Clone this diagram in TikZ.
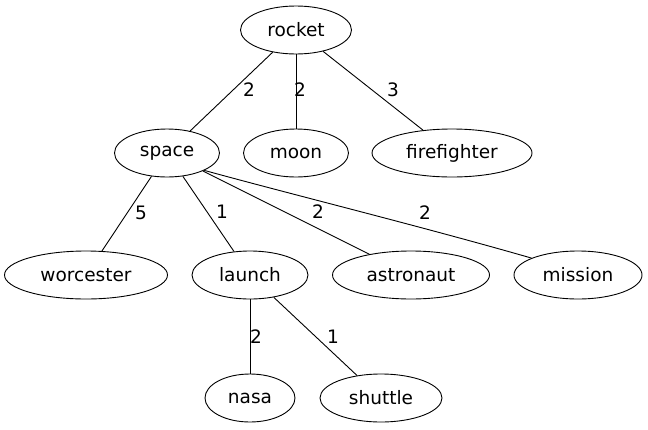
\documentclass[tikz,border=0pt]{standalone}
\usepackage{fontspec}
\setmainfont{DejaVu Sans}
\usetikzlibrary{shapes.geometric}
\tikzset{
  vtx/.style={ellipse, draw, line width=0.9pt, minimum height=48pt, inner sep=0pt},
  wt/.style={inner sep=0pt},
  kante/.style={line width=0.9pt}
}
\begin{document}
\begin{tikzpicture}[x=1pt, y=-1pt, font=\fontsize{18.5}{22}\selectfont]
    \useasboundingbox (0,0) rectangle (648,429);

    % Knoten der ersten Ebene
    \node[vtx, minimum width=111pt] (rocket) at (296,30) {rocket};

    % Knoten der zweiten Ebene
    \node[vtx, minimum width=105pt] (space) at (167,153) {space};
    \node[vtx, minimum width=105pt] (moon) at (296,153) {moon};
    \node[vtx, minimum width=160pt] (firefighter) at (452,153) {firefighter};

    % Knoten der dritten Ebene
    \node[vtx, minimum width=163pt] (worcester) at (86,275) {worcester};
    \node[vtx, minimum width=116pt] (launch) at (250,275) {launch};
    \node[vtx, minimum width=157pt] (astronaut) at (411,275) {astronaut};
    \node[vtx, minimum width=128pt] (mission) at (578,275) {mission};

    % Knoten der letzten Ebene
    \node[vtx, minimum width=90pt] (nasa) at (250,398) {nasa};
    \node[vtx, minimum width=122pt] (shuttle) at (381,398) {shuttle};

    % Kanten
    \draw[kante] (rocket) -- (space);
    \draw[kante] (rocket) -- (moon);
    \draw[kante] (rocket) -- (firefighter);

    \draw[kante] (space) -- (worcester);
    \draw[kante] (space) -- (launch);
    \draw[kante] (space) -- (astronaut);
    \draw[kante] (space.-25) .. controls (290,194) and (420,226) .. (mission.160);

    \draw[kante] (launch) -- (nasa);
    \draw[kante] (launch) -- (shuttle);

    % Gewichte
    \node[wt] (w1) at (249,90) {2};
    \node[wt] (w2) at (300,90) {2};
    \node[wt] (w3) at (393,90) {3};
    \node[wt] (w4) at (141,213) {5};
    \node[wt] (w5) at (222,212) {1};
    \node[wt] (w6) at (318,212) {2};
    \node[wt] (w7) at (425,213) {2};
    \node[wt] (w8) at (256,337) {2};
    \node[wt] (w9) at (333,337) {1};
  \end{tikzpicture}
\end{document}
